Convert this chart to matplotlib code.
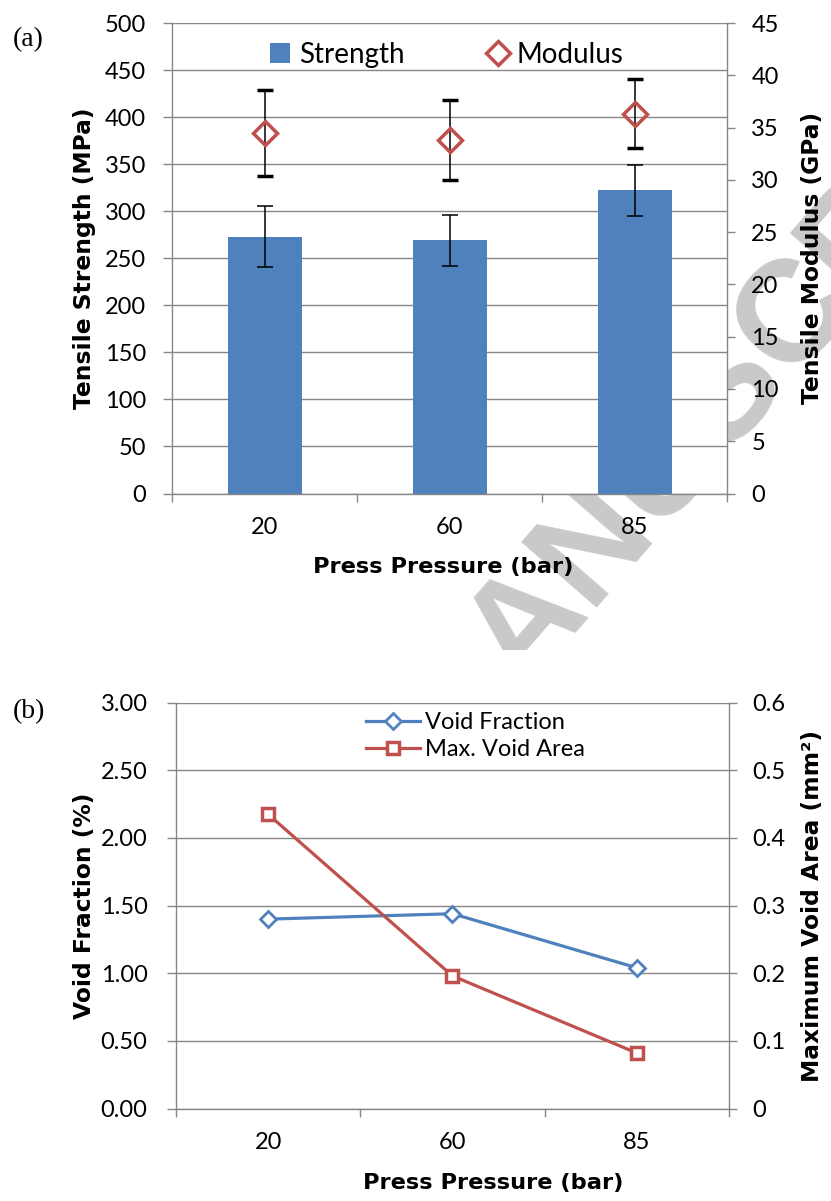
import matplotlib.pyplot as plt
from matplotlib.patches import Patch, Rectangle
from matplotlib.lines import Line2D

plt.rcParams['font.family'] = ['Lato', 'DejaVu Sans']

# data
pressures = ['20', '60', '85']
strength = [273, 269, 322]          # MPa
strength_err = [32, 27, 27]
modulus = [34.5, 33.8, 36.3]        # GPa
modulus_err = [4.1, 3.8, 3.3]

void_fraction = [1.40, 1.44, 1.04]  # %
max_void_area = [0.435, 0.196, 0.082]  # mm^2

blue = '#4F81BD'
red = '#C0504D'
grey = '#868686'

W, H = 831, 1201
fig = plt.figure(figsize=(W / 100, H / 100), dpi=100)


def px(x, y):
    return x / W, 1 - y / H


# watermark (sits behind the axes, lower half masked like in the scan)
fig.text(*px(522, 690), 'ANUSCRIPT', ha='left', rotation=49, rotation_mode='anchor',
         va='baseline', fontsize=104, fontweight='bold', family='Liberation Sans',
         color='#c9c9c9', zorder=-1)
fig.add_artist(Rectangle((0, 0), 1, 1 - 650 / H, transform=fig.transFigure,
                         facecolor='white', edgecolor='none', zorder=-0.5))

x = list(range(len(pressures)))
lab = dict(fontweight='bold', fontsize=16.8, family='DejaVu Sans', va='center')
xlab = dict(lab, fontsize=16.2)


def style_axes(ax, left_pad):
    for s in ['top', 'right']:
        ax.spines[s].set_visible(False)
    for s in ['left', 'bottom']:
        ax.spines[s].set_color(grey)
        ax.spines[s].set_linewidth(1.0)
    ax.yaxis.grid(True, color=grey, lw=1.0)
    ax.set_axisbelow(True)
    ax.set_xlim(-0.5, 2.5)
    ax.set_xticks(x)
    ax.set_xticklabels(pressures)
    ax.set_xticks([-0.5, 0.5, 1.5, 2.5], minor=True)
    ax.tick_params(axis='x', which='major', length=0, pad=17, labelsize=17)
    ax.tick_params(axis='x', which='minor', length=6, color=grey, width=1)
    ax.tick_params(axis='y', length=6.5, color=grey, width=1, pad=left_pad, labelsize=17)


def style_right(ax2, pad):
    for s in ['top', 'left', 'bottom']:
        ax2.spines[s].set_visible(False)
    ax2.spines['right'].set_color(grey)
    ax2.spines['right'].set_linewidth(1.0)
    ax2.tick_params(axis='y', length=6, color=grey, width=1, pad=pad, labelsize=17)


# ---------------- (a) ----------------
ax = fig.add_axes([172 / W, 1 - 493.5 / H, 555 / W, 470.5 / H])
style_axes(ax, 12)
ax.bar(x, strength, width=0.4, color=blue, zorder=2)
ax.errorbar(x, strength, yerr=strength_err, fmt='none', ecolor='black',
            elinewidth=1.1, capsize=5.5, capthick=1.1, zorder=3)
ax.set_ylim(0, 500)
ax.set_yticks(range(0, 501, 50))

ax2 = ax.twinx()
style_right(ax2, 11.5)
ax2.errorbar(x, modulus, yerr=modulus_err, fmt='D', ms=12, mfc='none', mec=red,
             mew=2.5, ecolor='black', elinewidth=1.1, capsize=5.5, capthick=1.1)
ax2.set_ylim(0, 45)
ax2.set_yticks(range(0, 46, 5))
ax2.set_xlim(-0.5, 2.5)

h1 = Patch(facecolor=blue, edgecolor='none')
h2 = Line2D([], [], ls='none', marker='D', ms=12, mfc='none', mec=red, mew=2.5)
ax.legend([h1, h2], ['Strength', 'Modulus'], loc='center', bbox_to_anchor=(0.495, 0.932),
          ncol=2, frameon=False, handlelength=0.75, handleheight=0.75,
          handletextpad=0.3, columnspacing=3.0, fontsize=20)

ax.set_ylabel('Tensile Strength (MPa)', **lab)
ax.yaxis.set_label_coords((85 - 172) / 555, 0.5)
ax2.set_ylabel('Tensile Modulus (GPa)', **lab)
ax2.yaxis.set_label_coords((812 - 172) / 555, 0.5)
ax.set_xlabel('Press Pressure (bar)', **xlab)
ax.xaxis.set_label_coords((443 - 172) / 555, (493.5 - 567) / 470.5)

fig.text(*px(28, 40), '(a)', family='Liberation Serif', fontsize=20, ha='center', va='center')

# ---------------- (b) ----------------
bx = fig.add_axes([176 / W, 1 - 1108.5 / H, 553 / W, 405.8 / H])
style_axes(bx, 14)
bx.plot(x, void_fraction, color=blue, lw=2.3, marker='D', ms=8, mfc='white',
        mec=blue, mew=2, label='Void Fraction')
bx.set_ylim(0, 3)
bx.set_yticks([0, 0.5, 1.0, 1.5, 2.0, 2.5, 3.0])
bx.set_yticklabels(['0.00', '0.50', '1.00', '1.50', '2.00', '2.50', '3.00'])

bx2 = bx.twinx()
style_right(bx2, 11)
bx2.plot(x, max_void_area, color=red, lw=2.3, marker='s', ms=9, mfc='white',
         mec=red, mew=2.5, label='Max. Void Area')
bx2.set_ylim(0, 0.6)
bx2.set_yticks([0, 0.1, 0.2, 0.3, 0.4, 0.5, 0.6])
bx2.set_yticklabels(['0', '0.1', '0.2', '0.3', '0.4', '0.5', '0.6'])
bx2.set_xlim(-0.5, 2.5)

lines = bx.get_lines() + bx2.get_lines()
bx2.legend(lines, [l.get_label() for l in lines], loc='center',
           bbox_to_anchor=(0.541, 0.918), frameon=False, handlelength=2.3,
           handletextpad=0.2, labelspacing=0.25, fontsize=17)

bx.set_ylabel('Void Fraction (%)', **lab)
bx.yaxis.set_label_coords((85 - 176) / 553, 0.5)
bx2.set_ylabel('Maximum Void Area (mm²)', **lab)
bx2.yaxis.set_label_coords((813 - 176) / 553, 0.5)
bx.set_xlabel('Press Pressure (bar)', **xlab)
bx.xaxis.set_label_coords((493 - 176) / 553, (1108.5 - 1183) / 405.8)

fig.text(*px(29, 712), '(b)', family='Liberation Serif', fontsize=20, ha='center', va='center')

fig.savefig('out.png', dpi=100, facecolor='white')
